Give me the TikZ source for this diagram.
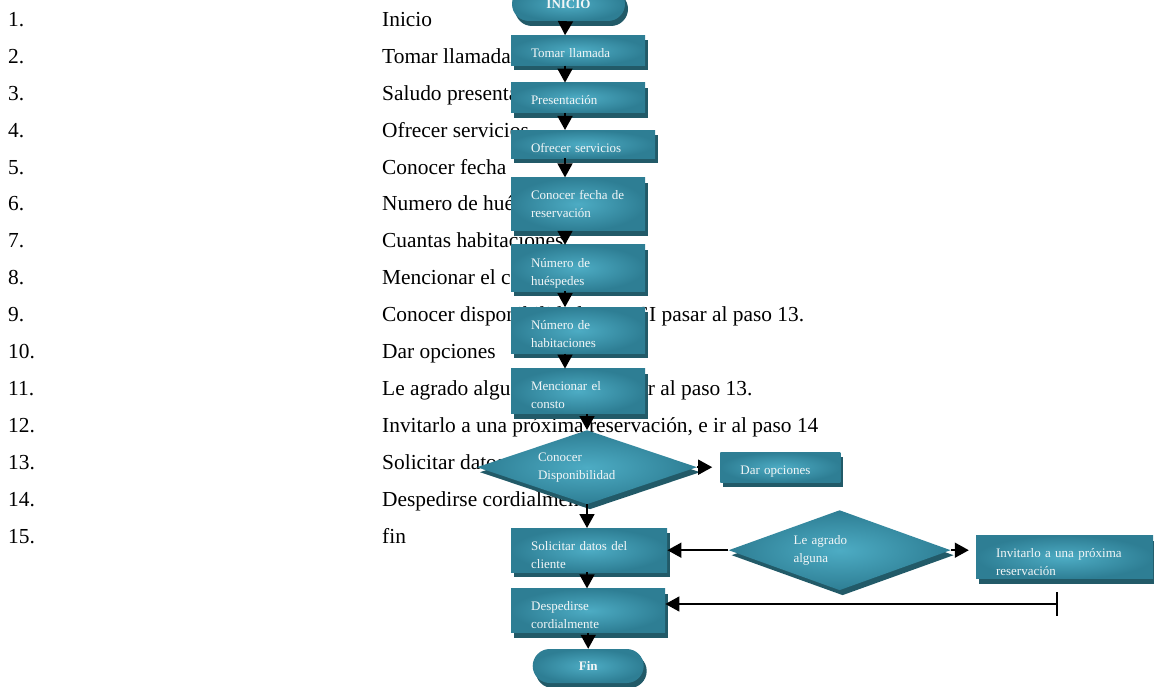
\documentclass[tikz,border=0pt]{standalone}
\usepackage{fontspec}
\setmainfont{Liberation Serif}
\usetikzlibrary{positioning, arrows.meta, shapes.geometric, shadows}
\definecolor{tealface}{HTML}{2E7E94}
\definecolor{tealglow}{HTML}{4DACC4}
\definecolor{tealshade}{HTML}{225A68}
\definecolor{boxtext}{HTML}{F2F6F7}

\begin{document}
\begin{tikzpicture}[
    x=1pt, y=-1pt,
    % numbered list behind the chart
    stepnum/.style={
        anchor=base west,
        inner sep=0pt,
        font=\fontsize{21.4}{24}\selectfont
    },
    % teal face with a glow in the middle and a dark drop shadow
    tealfill/.style={
        inner color=tealglow,
        outer color=tealface,
        drop shadow={shadow xshift=3pt, shadow yshift=-5pt, fill=tealshade, opacity=1},
        text=boxtext
    },
    % text hangs from the top of the box
    flowbox/.style={
        tealfill,
        rectangle,
        align=left,
        inner xsep=20pt,
        inner ysep=0pt,
        minimum height=0pt,
        text height=22pt,
        font=\fontsize{13}{18}\selectfont
    },
    terminal/.style={
        tealfill,
        rectangle,
        rounded corners=17pt,
        inner sep=0pt,
        minimum height=34pt,
        font=\fontsize{13}{15}\selectfont\bfseries
    },
    decision/.style={
        tealfill,
        diamond,
        aspect=3,
        inner sep=0pt,
        align=left,
        font=\fontsize{13}{18}\selectfont
    },
    arrow/.style={
        -{Triangle[length=14pt, width=15pt]},
        line width=1.6pt,
        black
    }
]
\useasboundingbox (0,0) rectangle (1154,687);

% ==============================
% Numbered steps
% ==============================
\foreach \n/\t in {1/Inicio, 2/Tomar llamada, 3/Saludo presentación,
    4/Ofrecer servicios, 5/Conocer fecha,
    6/Numero de huéspedes, 7/Cuantas habitaciones, 8/Mencionar el costo,
    9/{Conocer disponibilidad, \hspace{44pt}SI pasar al paso 13.},
    10/Dar opciones,
    11/{Le agrado alguna, \hspace{44pt}SI pasar al paso 13.},
    12/{Invitarlo a una próxima reservación, e ir al paso 14},
    13/Solicitar datos del cliente, 14/Despedirse cordialmente, 15/fin} {
    \node[stepnum] (num\n) at (8, {26.5+36.9*(\n-1)}) {\n.};
    \node[stepnum] (step\n) at (382, {26.5+36.9*(\n-1)}) {\t};
}

% ==============================
% Main column
% ==============================
\node[terminal, minimum width=113pt] (inicio) at (568.5, 4) {INICIO};

\node[flowbox, text width=94pt, text depth=8pt,
    below=14pt of inicio.south west, anchor=north west, xshift=-1pt] (tomar) {Tomar llamada};
\node[flowbox, text width=94pt, text depth=8pt,
    below=17pt of tomar.south west, anchor=north west] (present) {Presentación};
\node[flowbox, text width=104pt, text depth=6pt,
    below=17pt of present.south west, anchor=north west] (ofrecer) {Ofrecer servicios};
\node[flowbox, text width=94pt, text depth=31pt,
    below=19pt of ofrecer.south west, anchor=north west] (fecha) {Conocer fecha de\\reservación};
\node[flowbox, text width=94pt, text depth=24pt,
    below=14pt of fecha.south west, anchor=north west] (huesp) {Número de\\huéspedes};
\node[flowbox, text width=94pt, text depth=24pt,
    below=16pt of huesp.south west, anchor=north west] (habit) {Número de\\habitaciones};
\node[flowbox, text width=94pt, text depth=23pt,
    below=15pt of habit.south west, anchor=north west] (costo) {Mencionar el\\consto};

% ==============================
% Decisions and side branches
% ==============================
\node[decision, text width=98pt, minimum width=220pt, minimum height=74pt,
    below=16pt of costo, xshift=9pt] (dispo) {Conocer\\Disponibilidad};
\node[flowbox, text width=80pt, text depth=8pt,
    right=23pt of dispo] (opcion) {Dar opciones};

\node[flowbox, text width=116pt, text depth=22pt,
    anchor=north west] (datos) at (511, 528) {Solicitar datos del\\cliente};
\node[decision, text width=92pt, minimum width=222pt, minimum height=80pt,
    right=61pt of datos] (agrado) {Le agrado\\alguna};
\node[flowbox, text width=137pt, text depth=21pt,
    right=25pt of agrado, yshift=-7pt] (invita) {Invitarlo a una próxima\\reservación};

\node[flowbox, text width=114pt, text depth=22pt,
    below=16pt of datos.south west, anchor=north west] (despide) {Despedirse\\cordialmente};
\node[terminal, minimum width=111pt, below=16pt of despide] (fin) {Fin};

\coordinate (retorno) at (1058, 604);

% ==============================
% Arrows
% ==============================
\draw[arrow] ([xshift=-3pt]inicio.south) -- ([xshift=-13pt]tomar.north);
\draw[arrow] ([xshift=-13pt]tomar.south) -- ([xshift=-13pt]present.north);
\draw[arrow] ([xshift=-13pt]present.south) -- ([xshift=-13pt]present.south |- ofrecer.north);
\draw[arrow] ([xshift=-13pt]fecha.north |- ofrecer.south) -- ([xshift=-13pt]fecha.north);
\draw[arrow] ([xshift=-13pt]fecha.south) -- ([xshift=-13pt]huesp.north);
\draw[arrow] ([xshift=-13pt]huesp.south) -- ([xshift=-13pt]habit.north);
\draw[arrow] ([xshift=-13pt]habit.south) -- ([xshift=-13pt]costo.north);
\draw[arrow] (dispo.north |- costo.south) -- (dispo.north);

\draw[arrow] (dispo.east) -- ([xshift=-8pt]dispo.east -| opcion.west);
\draw[arrow] (dispo.south) -- (dispo.south |- datos.north);

\draw[arrow] (agrado.west) -- (agrado.west -| datos.east);
\draw[arrow] (agrado.east) -- ([xshift=-7pt]agrado.east -| invita.west);

\draw[arrow] (dispo.south |- datos.south) -- (dispo.south |- despide.north);
\draw[arrow] (fin.north |- despide.south) -- (fin.north);

% return line with a bar at its free end
\draw[arrow, {Bar[width=24pt]}-{Triangle[length=14pt, width=15pt]}]
    (retorno) -- (retorno -| despide.east);

\end{tikzpicture}
\end{document}
